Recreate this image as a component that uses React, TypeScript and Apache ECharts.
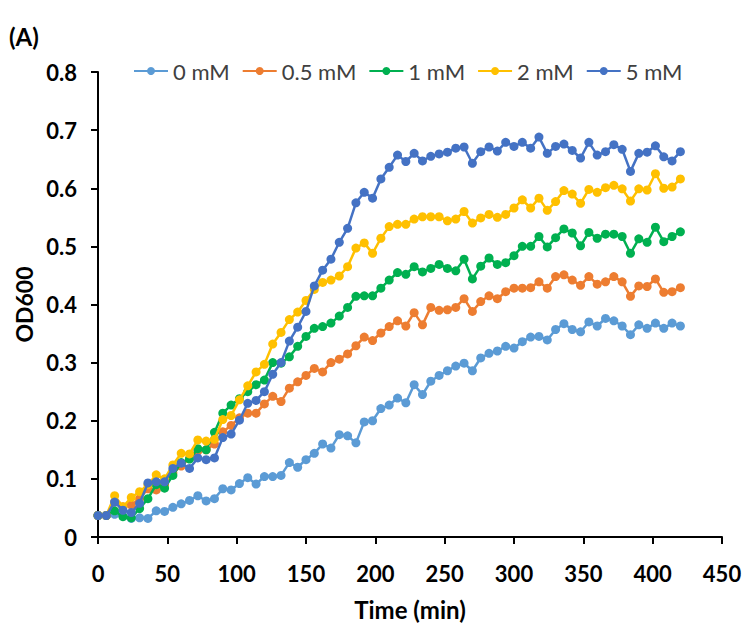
import React, { useEffect, useRef } from "react";
import * as echarts from "echarts";

const timeMin = [
  0, 6, 12, 18, 24, 30, 36, 42, 48, 54, 60, 66, 72, 78, 84, 90, 96, 102, 108, 114,
  120, 126, 132, 138, 144, 150, 156, 162, 168, 174, 180, 186, 192, 198, 204, 210,
  216, 222, 228, 234, 240, 246, 252, 258, 264, 270, 276, 282, 288, 294, 300, 306,
  312, 318, 324, 330, 336, 342, 348, 354, 360, 366, 372, 378, 384, 390, 396, 402,
  408, 414, 420,
];

const od0mM = [
  0.037, 0.037, 0.039, 0.036, 0.032, 0.033, 0.032, 0.045, 0.044, 0.051,
  0.057, 0.063, 0.071, 0.062, 0.066, 0.083, 0.081, 0.092, 0.102, 0.091,
  0.104, 0.104, 0.106, 0.128, 0.120, 0.133, 0.144, 0.160, 0.153, 0.176,
  0.174, 0.162, 0.198, 0.200, 0.221, 0.227, 0.239, 0.231, 0.262, 0.245,
  0.268, 0.278, 0.286, 0.294, 0.299, 0.286, 0.308, 0.316, 0.320, 0.328,
  0.325, 0.336, 0.344, 0.345, 0.339, 0.357, 0.367, 0.357, 0.353, 0.370,
  0.363, 0.376, 0.372, 0.363, 0.348, 0.365, 0.359, 0.368, 0.359, 0.368,
  0.363,
];

const od05mM = [
  0.037, 0.037, 0.060, 0.052, 0.055, 0.066, 0.083, 0.081, 0.090, 0.110,
  0.122, 0.135, 0.148, 0.150, 0.160, 0.181, 0.192, 0.205, 0.213, 0.213,
  0.229, 0.242, 0.233, 0.256, 0.267, 0.278, 0.290, 0.284, 0.300, 0.306,
  0.315, 0.329, 0.344, 0.338, 0.351, 0.362, 0.372, 0.363, 0.386, 0.365,
  0.395, 0.390, 0.391, 0.395, 0.410, 0.388, 0.405, 0.415, 0.410, 0.422,
  0.428, 0.428, 0.429, 0.439, 0.428, 0.448, 0.451, 0.442, 0.433, 0.448,
  0.435, 0.439, 0.448, 0.439, 0.414, 0.432, 0.431, 0.444, 0.421, 0.422,
  0.429,
];

const od1mM = [
  0.037, 0.037, 0.045, 0.035, 0.033, 0.049, 0.066, 0.090, 0.084, 0.106,
  0.128, 0.134, 0.152, 0.150, 0.180, 0.213, 0.227, 0.238, 0.250, 0.262,
  0.270, 0.300, 0.299, 0.310, 0.328, 0.345, 0.359, 0.362, 0.368, 0.380,
  0.395, 0.414, 0.415, 0.415, 0.428, 0.442, 0.455, 0.452, 0.465, 0.456,
  0.462, 0.469, 0.462, 0.458, 0.478, 0.444, 0.466, 0.480, 0.469, 0.472,
  0.484, 0.500, 0.500, 0.517, 0.499, 0.515, 0.530, 0.523, 0.501, 0.524,
  0.514, 0.521, 0.521, 0.517, 0.488, 0.513, 0.507, 0.533, 0.508, 0.517,
  0.525,
];

const od2mM = [
  0.037, 0.037, 0.071, 0.052, 0.068, 0.078, 0.090, 0.107, 0.100, 0.124,
  0.144, 0.143, 0.167, 0.165, 0.168, 0.202, 0.209, 0.236, 0.260, 0.284,
  0.297, 0.332, 0.352, 0.374, 0.387, 0.407, 0.426, 0.438, 0.442, 0.449,
  0.465, 0.497, 0.506, 0.488, 0.514, 0.534, 0.538, 0.538, 0.547, 0.551,
  0.551, 0.551, 0.544, 0.547, 0.560, 0.540, 0.549, 0.555, 0.550, 0.555,
  0.566, 0.580, 0.566, 0.583, 0.562, 0.577, 0.596, 0.590, 0.574, 0.598,
  0.593, 0.601, 0.605, 0.599, 0.578, 0.599, 0.597, 0.625, 0.600, 0.602,
  0.616,
];

const od5mM = [
  0.037, 0.037, 0.060, 0.046, 0.042, 0.058, 0.093, 0.095, 0.095, 0.118,
  0.127, 0.118, 0.136, 0.133, 0.136, 0.171, 0.177, 0.201, 0.230, 0.235,
  0.250, 0.280, 0.300, 0.337, 0.361, 0.388, 0.432, 0.459, 0.478, 0.507,
  0.531, 0.575, 0.593, 0.583, 0.616, 0.636, 0.657, 0.646, 0.660, 0.647,
  0.655, 0.659, 0.662, 0.669, 0.671, 0.643, 0.663, 0.671, 0.664, 0.679,
  0.672, 0.679, 0.669, 0.688, 0.660, 0.672, 0.676, 0.665, 0.652, 0.679,
  0.657, 0.663, 0.675, 0.667, 0.629, 0.660, 0.662, 0.673, 0.654, 0.647,
  0.663,
];

const seriesNames = ["0 mM", "0.5 mM", "1 mM", "2 mM", "5 mM"];
const seriesValues = [od0mM, od05mM, od1mM, od2mM, od5mM];
const seriesColors = ["#5B9BD5", "#ED7D31", "#00B050", "#FFC000", "#4472C4"];

const FONT = "Lato, 'Open Sans', sans-serif";

export default function App() {
  const ref = useRef<HTMLDivElement>(null);

  useEffect(() => {
    const chart = echarts.init(ref.current!, null, { renderer: "svg" });
    const option: any = {
      animation: false,
      backgroundColor: "#ffffff",
      textStyle: { fontFamily: FONT },
      grid: {
        left: 98,
        right: 24,
        top: 72,
        bottom: 97,
        containLabel: false,
        outerBoundsMode: "none",
      },
      legend: {
        top: 55,
        left: 128,
        itemWidth: 34,
        itemHeight: 10,
        itemGap: 12,
        textStyle: { fontFamily: FONT, fontSize: 22, color: "#404040" },
        data: seriesNames,
      },
      graphic: [
        {
          type: "text",
          left: 9,
          top: 24,
          style: {
            text: "(A)",
            font: `bold 24px ${FONT}`,
            fill: "#000",
          },
        },
      ],
      xAxis: {
        type: "value",
        min: 0,
        max: 450,
        interval: 50,
        name: "Time (min)",
        nameLocation: "middle",
        nameGap: 60,
        nameTextStyle: { fontFamily: FONT, fontSize: 24, fontWeight: "bold", color: "#000" },
        axisLine: { lineStyle: { color: "#000", width: 2 } },
        axisTick: { show: true, length: 7, lineStyle: { color: "#000", width: 2 } },
        axisLabel: { fontFamily: FONT, fontSize: 22, fontWeight: "bold", color: "#000", margin: 25 },
        splitLine: { show: false },
      },
      yAxis: {
        type: "value",
        min: 0,
        max: 0.8,
        interval: 0.1,
        name: "OD600",
        nameLocation: "middle",
        nameGap: 58,
        nameRotate: 90,
        nameTextStyle: { fontFamily: FONT, fontSize: 23, fontWeight: "bold", color: "#000" },
        axisLine: { show: true, lineStyle: { color: "#000", width: 2 } },
        axisTick: { show: true, length: 7, lineStyle: { color: "#000", width: 2 } },
        axisLabel: {
          fontFamily: FONT,
          fontSize: 22,
          fontWeight: "bold",
          color: "#000",
          margin: 21,
          formatter: (v: number) => (v === 0 ? "0" : v.toFixed(1)),
        },
        splitLine: { show: false },
      },
      series: seriesNames.map((name, si) => ({
        name,
        type: "line",
        data: timeMin.map((t, i) => [t, seriesValues[si][i]]),
        symbol: "circle",
        symbolSize: 9,
        showSymbol: true,
        color: seriesColors[si],
        lineStyle: { width: 2.5, color: seriesColors[si] },
        itemStyle: { color: seriesColors[si] },
        z: 2 + si,
      })),
    };
    chart.setOption(option);
    return () => chart.dispose();
  }, []);

  return (
    <div
      ref={ref}
      style={{ position: "fixed", left: 0, top: 0, width: 746, height: 634, background: "#fff" }}
    />
  );
}
